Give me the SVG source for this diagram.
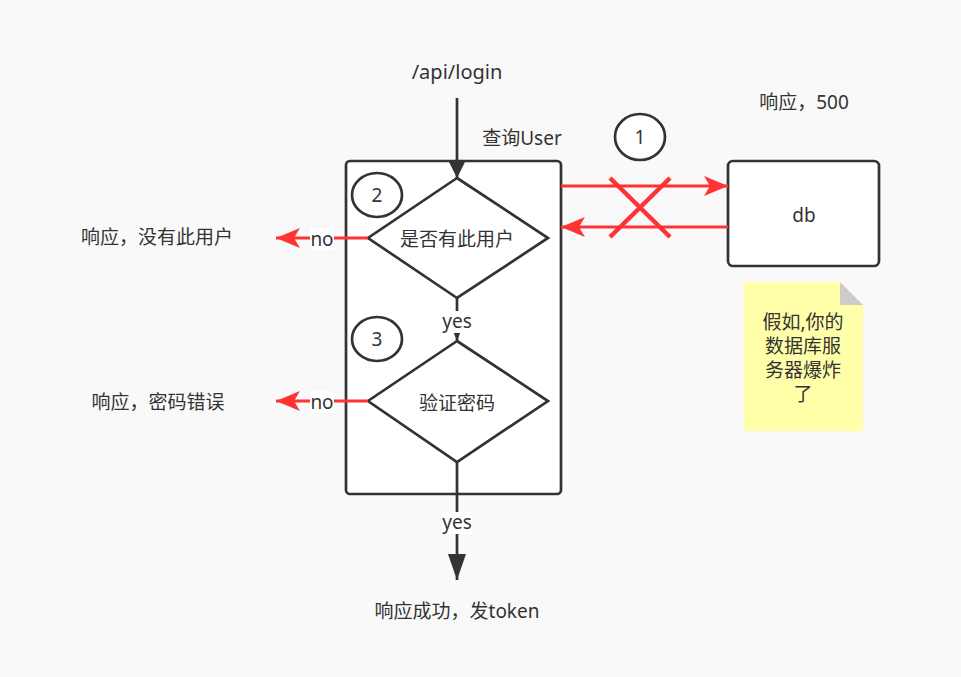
<svg xmlns="http://www.w3.org/2000/svg" width="961" height="677" viewBox="0 0 961 677">
  <style>
    text { font-family: "Noto Sans", "Noto Sans CJK SC", sans-serif; font-size: 19px; fill: #333; text-anchor: middle; dominant-baseline: central; }
    .latin { font-size: 20px; }
    .box { fill: #fff; stroke: #333; stroke-width: 2.7; }
    .line { fill: none; stroke: #333; stroke-width: 2.7; }
    .red { fill: none; stroke: #ff3333; stroke-width: 3; }
    .cross { fill: none; stroke: #ff3333; stroke-width: 4.5; }
    .lbl { fill: #fff; }
  </style>
  <defs>
    <marker id="arrowDark" viewBox="0 0 16 24" refX="16" refY="12" markerWidth="16" markerHeight="24" markerUnits="userSpaceOnUse" orient="auto">
      <path d="M0,4 L16,12 L0,20 Z" fill="#333"/>
    </marker>
    <marker id="arrowBig" viewBox="0 0 26 18" refX="26" refY="9" markerWidth="26" markerHeight="18" markerUnits="userSpaceOnUse" orient="auto">
      <path d="M0,0 L26,9 L0,18 Z" fill="#333"/>
    </marker>
    <marker id="arrowSmall" viewBox="0 0 10 10" refX="10" refY="5" markerWidth="10" markerHeight="10" markerUnits="userSpaceOnUse" orient="auto">
      <path d="M0,1 L10,5 L0,9 Z" fill="#333"/>
    </marker>
    <marker id="arrowRed" viewBox="0 0 24 20" refX="24" refY="10" markerWidth="24" markerHeight="20" markerUnits="userSpaceOnUse" orient="auto">
      <path d="M0,0 L24,10 L0,20 L6,10 Z" fill="#ff3333"/>
    </marker>
  </defs>

  <rect width="961" height="677" fill="#f9f9f9"/>

  <!-- free labels -->
  <text class="latin" x="457" y="71">/api/login</text>
  <text x="522" y="138">查询User</text>
  <text x="804" y="102">响应，500</text>

  <!-- process container -->
  <g id="process">
    <rect class="box" x="346" y="161" width="215" height="333" rx="4"/>
  </g>

  <g id="db">
    <rect class="box" x="728" y="161" width="151" height="105" rx="5"/>
    <text x="804" y="215">db</text>
  </g>

  <g id="step1">
    <ellipse class="box" cx="640" cy="137" rx="25" ry="23"/>
    <text x="640" y="137">1</text>
  </g>
  <g id="step2">
    <ellipse class="box" cx="377" cy="195" rx="25" ry="22"/>
    <text x="377" y="195">2</text>
  </g>
  <g id="step3">
    <ellipse class="box" cx="377" cy="339" rx="25" ry="22"/>
    <text x="377" y="339">3</text>
  </g>

  <g id="check-user">
    <path class="box" d="M457,178 L548,238 L457,298 L368,238 Z"/>
    <text x="457" y="239">是否有此用户</text>
  </g>
  <g id="check-password">
    <path class="box" d="M457,341 L548,401 L457,462 L368,401 Z"/>
    <text x="457" y="403">验证密码</text>
  </g>

  <g id="note">
    <path d="M744,282 L840,282 L863,305 L863,431 L744,431 Z" fill="#ffffaa"/>
    <path d="M840,282 L863,305 L840,305 Z" fill="#cccccc"/>
    <text x="803" y="322">假如,你的</text>
    <text x="803" y="346">数据库服</text>
    <text x="803" y="370">务器爆炸</text>
    <text x="803" y="394">了</text>
  </g>

  <g id="results">
    <text x="157" y="237">响应，没有此用户</text>
    <text x="158" y="402">响应，密码错误</text>
    <text x="457" y="611">响应成功，发token</text>
  </g>

  <g id="connectors">
    <line class="line" x1="457" y1="98" x2="457" y2="178" marker-end="url(#arrowDark)"/>
    <line class="line" x1="457" y1="298" x2="457" y2="341" marker-end="url(#arrowSmall)"/>
    <line class="line" x1="457" y1="462" x2="457" y2="580" marker-end="url(#arrowBig)"/>
    <line class="red" x1="561" y1="186" x2="728" y2="186" marker-end="url(#arrowRed)"/>
    <line class="red" x1="728" y1="227" x2="561" y2="227" marker-end="url(#arrowRed)"/>
    <line class="cross" x1="610" y1="178" x2="670" y2="237"/>
    <line class="cross" x1="670" y1="178" x2="610" y2="237"/>
    <line class="red" x1="368" y1="238" x2="276" y2="238" marker-end="url(#arrowRed)"/>
    <line class="red" x1="368" y1="401" x2="276" y2="401" marker-end="url(#arrowRed)"/>

    <rect class="lbl" x="310" y="228" width="24" height="22"/>
    <text x="322" y="239">no</text>
    <rect class="lbl" x="310" y="391" width="24" height="22"/>
    <text x="322" y="402">no</text>
    <rect class="lbl" x="442" y="311" width="30" height="22"/>
    <text x="457" y="321">yes</text>
    <rect class="lbl" x="442" y="512" width="30" height="22"/>
    <text x="457" y="522">yes</text>
  </g>
</svg>
